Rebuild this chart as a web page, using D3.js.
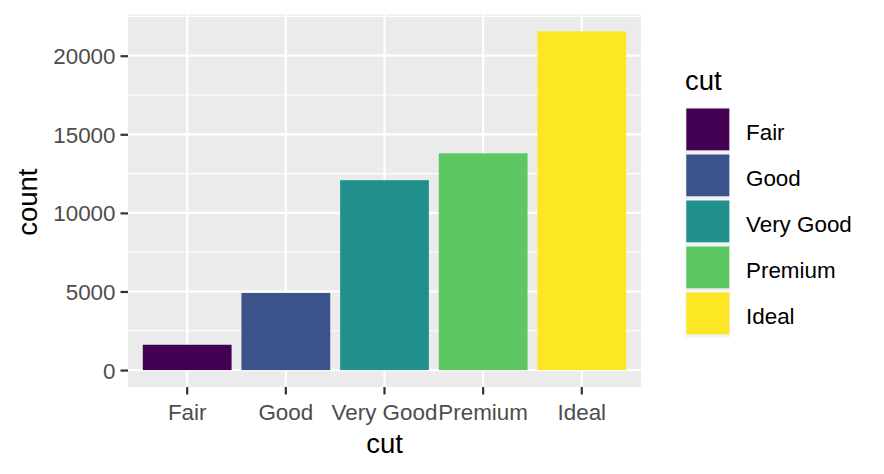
<!DOCTYPE html>
<html><head><meta charset="utf-8">
<script src="https://cdn.jsdelivr.net/npm/d3@7"></script>
<style>body{margin:0;background:#fff}</style>
</head><body>
<svg id="c" width="884" height="474"></svg>
<script>
const categories = ["Fair", "Good", "Very Good", "Premium", "Ideal"];
const counts = [1610, 4906, 12082, 13791, 21551];
const colors = ["#440154", "#3B528B", "#21908C", "#5DC863", "#FDE725"];
const yTicks = [0, 5000, 10000, 15000, 20000];
const yMinorTicks = [2500, 7500, 12500, 17500, 22500];

const svg = d3.select("#c");
const font = "'Liberation Sans', Arial, sans-serif";
const P = {l: 128, r: 641, t: 14.4, b: 387};
const fs = "22.4px";

const maxV = d3.max(counts);
const y = d3.scaleLinear().domain([-0.05 * maxV, 1.05 * maxV]).range([P.b, P.t]);
const xc = d3.scaleLinear().domain([0.4, 5.6]).range([P.l, P.r]);
const x = d3.scaleBand().domain(categories).range([xc(0.5), xc(5.5)]).paddingInner(0.1).paddingOuter(0.05);

svg.append("rect").attr("x", P.l).attr("y", P.t).attr("width", P.r - P.l).attr("height", P.b - P.t).attr("fill", "#EBEBEB");

const g = svg.append("g");
g.selectAll(".ymin").data(yMinorTicks).join("line")
  .attr("x1", P.l).attr("x2", P.r).attr("y1", d => y(d)).attr("y2", d => y(d))
  .attr("stroke", "#fff").attr("stroke-width", 1.1);
g.selectAll(".ymaj").data(yTicks).join("line")
  .attr("x1", P.l).attr("x2", P.r).attr("y1", d => y(d)).attr("y2", d => y(d))
  .attr("stroke", "#fff").attr("stroke-width", 2.2);
g.selectAll(".xmaj").data(categories).join("line")
  .attr("x1", d => x(d) + x.bandwidth() / 2).attr("x2", d => x(d) + x.bandwidth() / 2)
  .attr("y1", P.t).attr("y2", P.b)
  .attr("stroke", "#fff").attr("stroke-width", 2.2);

svg.selectAll(".bar").data(categories).join("rect")
  .attr("x", d => x(d)).attr("width", x.bandwidth())
  .attr("y", (d, i) => y(counts[i])).attr("height", (d, i) => y(0) - y(counts[i]))
  .attr("fill", (d, i) => colors[i]);

// y axis
const yAxis = svg.append("g").attr("transform", `translate(${P.l},0)`)
  .call(d3.axisLeft(y).tickValues(yTicks).tickSize(7.5).tickPadding(5).tickFormat(d3.format("d")));
yAxis.select(".domain").remove();
yAxis.selectAll("line").attr("stroke", "#333333").attr("stroke-width", 2.2);
yAxis.selectAll("text").attr("fill", "#4D4D4D").style("font-family", font).style("font-size", fs).attr("dy", "0.36em");

// x axis
const xAxis = svg.append("g").attr("transform", `translate(0,${P.b})`)
  .call(d3.axisBottom(x).tickSize(7.5).tickPadding(4));
xAxis.select(".domain").remove();
xAxis.selectAll("line").attr("stroke", "#333333").attr("stroke-width", 2.2);
xAxis.selectAll("text").attr("fill", "#4D4D4D").style("font-family", font).style("font-size", fs)
  .attr("y", 33).attr("dy", 0);

// axis titles
svg.append("text").attr("x", (P.l + P.r) / 2).attr("y", 453).attr("text-anchor", "middle")
  .style("font-family", font).style("font-size", "27.5px").attr("fill", "#000").text("cut");
svg.append("text").attr("transform", `translate(37,${(P.t + P.b) / 2 + 1.5}) rotate(-90)`).attr("text-anchor", "middle")
  .style("font-family", font).style("font-size", "27.5px").attr("fill", "#000").text("count");

// legend
const L = {x: 685.3, y: 107.3, k: 46};
svg.append("text").attr("x", 685).attr("y", 90).style("font-family", font).style("font-size", "27.5px").attr("fill", "#000").text("cut");
const lg = svg.append("g");
lg.selectAll(".kb").data(categories).join("rect")
  .attr("x", L.x).attr("y", (d, i) => L.y + i * L.k).attr("width", L.k - 1).attr("height", L.k)
  .attr("fill", "#F2F2F2");
lg.selectAll(".kf").data(categories).join("rect")
  .attr("x", L.x + 1).attr("y", (d, i) => L.y + i * L.k + 1.2).attr("width", L.k - 3).attr("height", L.k - 4.2)
  .attr("fill", (d, i) => colors[i]);
lg.selectAll(".kt").data(categories).join("text")
  .attr("x", 746).attr("y", (d, i) => L.y + i * L.k + L.k / 2 + 9.7)
  .style("font-family", font).style("font-size", fs).attr("fill", "#000").text(d => d);
</script>
</body></html>
